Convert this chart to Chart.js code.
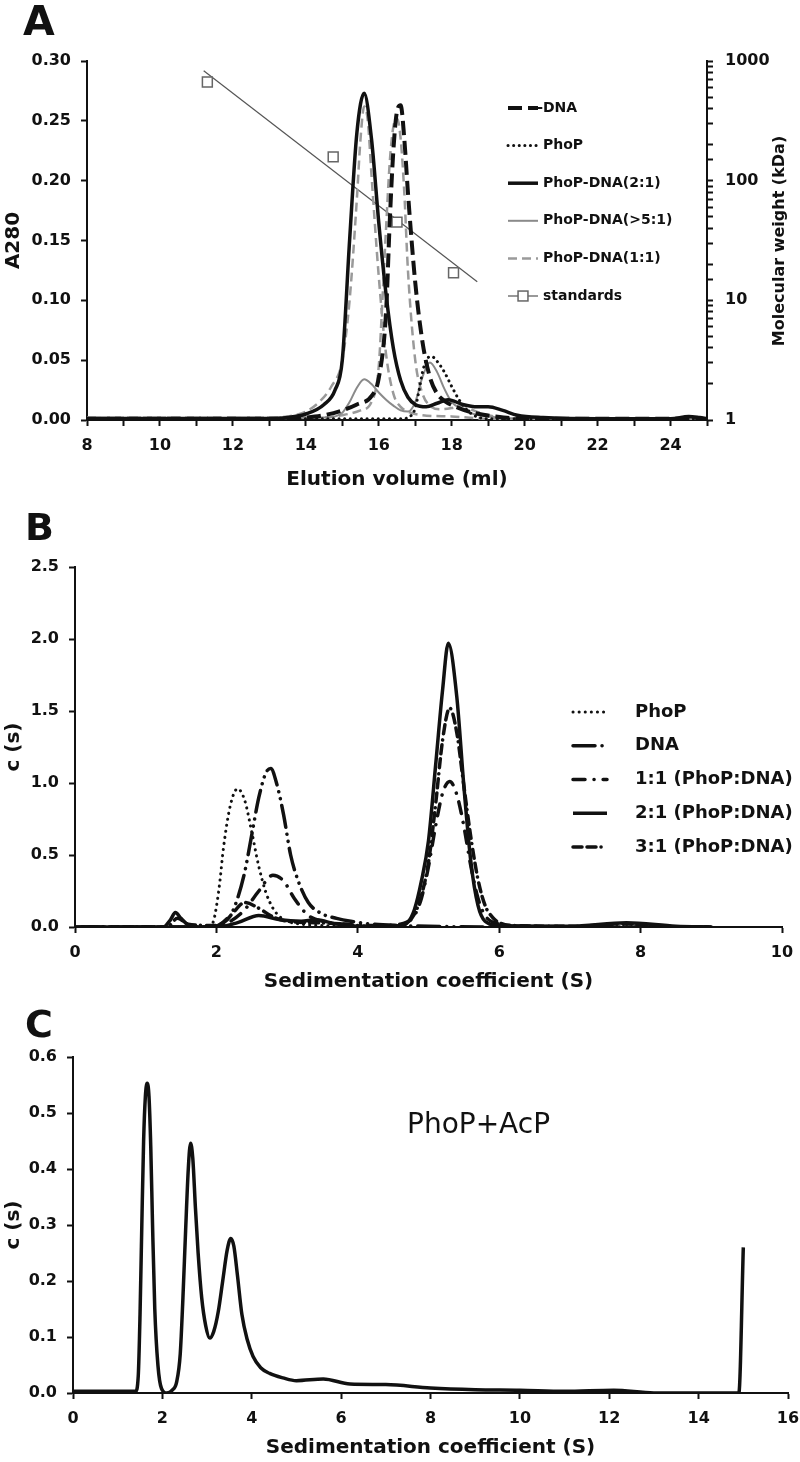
<!DOCTYPE html>
<html>
<head>
<meta charset="utf-8">
<script src="https://cdn.jsdelivr.net/npm/chart.js@4.4.1/dist/chart.umd.min.js"></script>
<style>
  html, body { margin: 0; padding: 0; background: #fff; }
  body { width: 800px; height: 1462px; position: relative; overflow: hidden; }
  canvas { position: absolute; left: 0; }
</style>
</head>
<body>
<canvas id="chartA" width="800" height="494" style="top:0px"></canvas>
<canvas id="chartB" width="800" height="506" style="top:490px"></canvas>
<canvas id="chartC" width="800" height="466" style="top:996px"></canvas>
<script>
// ---- Panel A: gel filtration (A280 vs elution volume) ----
const aNoDnaX = [8, 13.5, 14.0, 14.5, 15.0, 15.4, 15.8, 16.0, 16.2, 16.3, 16.4, 16.5, 16.6, 16.7, 16.8, 17.0, 17.2, 17.4, 17.6, 17.8, 18.2, 18.6, 19.2, 20, 25];
const aNoDnaY = [0.001, 0.001, 0.002, 0.004, 0.008, 0.013, 0.02, 0.035, 0.09, 0.165, 0.225, 0.258, 0.263, 0.235, 0.19, 0.115, 0.065, 0.036, 0.022, 0.016, 0.01, 0.006, 0.003, 0.001, 0.001];

const aPhoPX = [8, 16.6, 16.9, 17.0, 17.1, 17.2, 17.3, 17.45, 17.6, 17.8, 18.0, 18.2, 18.4, 18.6, 19.0, 25];
const aPhoPY = [0.001, 0.001, 0.004, 0.01, 0.024, 0.04, 0.05, 0.053, 0.049, 0.04, 0.028, 0.017, 0.009, 0.004, 0.001, 0.001];

const a21X = [8, 13.0, 13.5, 14.0, 14.5, 14.8, 15.0, 15.2, 15.4, 15.6, 15.8, 16.0, 16.2, 16.4, 16.6, 16.8, 17.0, 17.3, 17.6, 17.9, 18.3, 18.7, 19.0, 19.4, 19.8, 20.5, 22, 24, 24.5, 24.8, 25];
const a21Y = [0.001, 0.001, 0.002, 0.005, 0.013, 0.025, 0.05, 0.15, 0.24, 0.273, 0.235, 0.165, 0.105, 0.06, 0.033, 0.019, 0.013, 0.011, 0.014, 0.017, 0.013, 0.011, 0.011, 0.008, 0.004, 0.002, 0.001, 0.001, 0.003, 0.002, 0.001];

const a51X = [8, 14.5, 14.8, 15.0, 15.2, 15.4, 15.6, 15.8, 16.0, 16.2, 16.4, 16.6, 16.8, 17.0, 17.2, 17.4, 17.6, 17.8, 18.0, 18.3, 18.6, 19.0, 20, 25];
const a51Y = [0.002, 0.002, 0.003, 0.006, 0.015, 0.027, 0.034, 0.03, 0.023, 0.017, 0.012, 0.008, 0.007, 0.015, 0.036, 0.048, 0.04, 0.026, 0.015, 0.009, 0.005, 0.003, 0.001, 0.001];

const a11X = [8, 14.5, 15.0, 15.5, 15.8, 16.0, 16.1, 16.2, 16.3, 16.4, 16.5, 16.6, 16.7, 16.8, 17.0, 17.2, 17.4, 17.7, 18.0, 18.3, 18.6, 19.0, 20, 25];
const a11Y = [0.001, 0.002, 0.004, 0.008, 0.015, 0.045, 0.1, 0.16, 0.215, 0.245, 0.252, 0.235, 0.19, 0.125, 0.05, 0.022, 0.012, 0.009, 0.01, 0.012, 0.008, 0.004, 0.001, 0.001];

// second grey dashed trace, sits under the 2:1 peak (no legend entry)
const a11bX = [8, 13.0, 13.5, 14.0, 14.4, 14.7, 15.0, 15.2, 15.4, 15.5, 15.6, 15.7, 15.8, 16.0, 16.2, 16.4, 16.6, 16.8, 17.2, 18.0, 19.0, 25];
const a11bY = [0.002, 0.002, 0.003, 0.007, 0.016, 0.028, 0.05, 0.1, 0.185, 0.235, 0.262, 0.25, 0.205, 0.12, 0.055, 0.022, 0.011, 0.007, 0.004, 0.003, 0.001, 0.001];

const stdVolume = [11.3, 14.75, 16.5, 18.05];
const stdMW = [668, 158, 45, 17];
const trendVolume = [11.2, 18.7];
const trendMW = [830, 14.3];

// ---- Panel B: c(s) distributions ----
const bPhoPX = [0, 1.85, 1.95, 2.0, 2.05, 2.1, 2.2, 2.3, 2.4, 2.5, 2.6, 2.7, 2.8, 2.9, 3.0, 3.2, 3.5, 4.0];
const bPhoPY = [0, 0, 0.03, 0.14, 0.32, 0.55, 0.85, 0.96, 0.88, 0.66, 0.42, 0.24, 0.13, 0.07, 0.04, 0.02, 0.01, 0];

const bDnaX = [0.1, 1.9, 2.1, 2.2, 2.3, 2.4, 2.5, 2.6, 2.7, 2.77, 2.85, 2.95, 3.05, 3.15, 3.3, 3.5, 3.7, 3.9, 4.2, 4.6, 5.0, 6, 9];
const bDnaY = [0, 0, 0.03, 0.08, 0.2, 0.38, 0.64, 0.9, 1.07, 1.1, 1.0, 0.78, 0.5, 0.33, 0.17, 0.09, 0.06, 0.04, 0.02, 0.01, 0.005, 0, 0];

const b11X = [0.1, 2.0, 2.2, 2.4, 2.6, 2.8, 2.95, 3.1, 3.3, 3.5, 3.8, 4.2, 4.6, 4.8, 4.9, 5.0, 5.1, 5.2, 5.3, 5.4, 5.5, 5.6, 5.7, 5.8, 6.0, 6.3, 9];
const b11Y = [0, 0, 0.04, 0.12, 0.25, 0.36, 0.32, 0.2, 0.08, 0.04, 0.02, 0.01, 0.02, 0.08, 0.2, 0.42, 0.7, 0.93, 1.01, 0.92, 0.7, 0.42, 0.2, 0.08, 0.02, 0.005, 0];

const b21X = [0, 1.25, 1.35, 1.42, 1.5, 1.6, 1.8, 2.0, 2.3, 2.6, 2.9, 3.2, 3.4, 3.7, 4.0, 4.5, 4.7, 4.8, 4.9, 5.0, 5.1, 5.2, 5.28, 5.4, 5.5, 5.6, 5.7, 5.8, 6.0, 7.0, 7.8, 8.5, 9];
const b21Y = [0, 0, 0.05, 0.1, 0.06, 0.015, 0, 0, 0.03, 0.08, 0.05, 0.04, 0.05, 0.02, 0.005, 0, 0.03, 0.12, 0.32, 0.6, 1.12, 1.65, 1.97, 1.6, 0.98, 0.45, 0.15, 0.04, 0.01, 0.005, 0.03, 0.005, 0];

const b31X = [0, 1.3, 1.45, 1.6, 2.0, 2.2, 2.4, 2.6, 2.8, 3.0, 3.4, 3.8, 4.2, 4.6, 4.8, 4.9, 5.0, 5.1, 5.2, 5.3, 5.4, 5.5, 5.6, 5.7, 5.8, 5.9, 6.0, 6.2, 7.0, 7.8, 8.5, 9];
const b31Y = [0, 0, 0.06, 0.02, 0.01, 0.08, 0.17, 0.13, 0.07, 0.04, 0.03, 0.02, 0.005, 0.01, 0.09, 0.22, 0.45, 0.85, 1.3, 1.52, 1.35, 0.98, 0.62, 0.33, 0.15, 0.07, 0.03, 0.01, 0.005, 0.02, 0, 0];

// ---- Panel C: PhoP + AcP ----
const cSedX = [0, 1.4, 1.46, 1.5, 1.54, 1.58, 1.62, 1.66, 1.70, 1.74, 1.78, 1.83, 1.9, 1.98, 2.1, 2.22, 2.32, 2.4, 2.46, 2.52, 2.58, 2.63, 2.68, 2.74, 2.8, 2.88, 2.97, 3.06, 3.15, 3.25, 3.35, 3.45, 3.53, 3.6, 3.68, 3.78, 3.9, 4.03, 4.2, 4.4, 4.7, 5.0, 5.6, 6.2, 7.0, 8.0, 9.0, 10.0, 11.0, 12.1, 13.0, 14.9, 15.0];
const cSedY = [0.003, 0.003, 0.03, 0.14, 0.3, 0.45, 0.53, 0.553, 0.53, 0.44, 0.3, 0.15, 0.05, 0.008, 0.0, 0.005, 0.02, 0.07, 0.17, 0.29, 0.4, 0.446, 0.42, 0.33, 0.25, 0.17, 0.12, 0.098, 0.11, 0.145, 0.2, 0.255, 0.276, 0.262, 0.21, 0.14, 0.095, 0.065, 0.045, 0.035, 0.027, 0.022, 0.025, 0.016, 0.015, 0.009, 0.006, 0.005, 0.003, 0.005, 0.0, 0.0, 0.26];

const FONT = "'DejaVu Sans', sans-serif";
const INK = '#111';
Chart.defaults.font.family = FONT;

const pts = (xs, ys) => xs.map((x, i) => ({ x, y: ys[i] }));

function curve(label, xs, ys, style) {
    return Object.assign({
        label,
        data: pts(xs, ys),
        borderColor: INK,
        borderWidth: 3,
        fill: false,
        pointRadius: 0,
        cubicInterpolationMode: 'monotone',
        borderJoinStyle: 'round'
    }, style);
}

function makeAxis(o) {
    return {
        type: o.type || 'linear',
        position: o.position,
        min: o.min,
        max: o.max,
        ticks: {
            stepSize: o.step,
            autoSkip: false,
            maxRotation: 0,
            color: INK,
            padding: o.pad == null ? 10 : o.pad,
            font: { family: FONT, size: 16, weight: 'bold' },
            callback: o.fmt
        },
        grid: { drawOnChartArea: false, drawTicks: true, tickLength: 6, tickWidth: 2, tickColor: INK, color: INK },
        border: { display: true, color: INK, width: 2 },
        title: o.title
            ? { display: true, text: o.title, color: INK, font: { family: FONT, size: 20, weight: 'bold' }, padding: { top: 2, bottom: 2 } }
            : { display: false },
        afterFit: s => {
            if (s.isHorizontal()) {
                s.height = o.fit;
                // keep the plot edges where the layout padding puts them
                s.paddingLeft = 0;
                s.paddingRight = 0;
            } else {
                s.width = o.fit;
            }
        }
    };
}

// free text: panel letters, notes, rotated right-hand title
function textPlugin(items) {
    return {
        id: 'panelText',
        afterDraw(chart) {
            const ctx = chart.ctx;
            items.forEach(t => {
                ctx.save();
                ctx.font = t.font;
                ctx.fillStyle = INK;
                ctx.textAlign = t.align || 'left';
                ctx.textBaseline = t.baseline || 'alphabetic';
                ctx.translate(t.x, t.y);
                if (t.rotate) ctx.rotate(t.rotate);
                ctx.fillText(t.text, 0, 0);
                ctx.restore();
            });
        }
    };
}

// legend drawn with the real dash patterns of each dataset
function legendPlugin(cfg) {
    return {
        id: 'lineLegend',
        afterDraw(chart) {
            const ctx = chart.ctx;
            cfg.items.forEach((label, i) => {
                const ds = chart.data.datasets.find(d => d.label === label);
                const y = cfg.y + i * cfg.gap;
                ctx.save();
                ctx.strokeStyle = ds.borderColor;
                ctx.lineWidth = ds.borderWidth;
                ctx.lineCap = ds.borderCapStyle || 'butt';
                ctx.setLineDash(ds.borderDash || []);
                ctx.beginPath();
                ctx.moveTo(cfg.x, y);
                ctx.lineTo(cfg.x + cfg.len, y);
                ctx.stroke();
                if (ds.pointStyle === 'rect') {
                    const h = ds.pointRadius * Math.SQRT1_2;
                    const cx = cfg.x + cfg.len / 2;
                    ctx.setLineDash([]);
                    ctx.fillStyle = ds.pointBackgroundColor;
                    ctx.strokeStyle = ds.pointBorderColor;
                    ctx.lineWidth = ds.pointBorderWidth;
                    ctx.fillRect(cx - h, y - h, 2 * h, 2 * h);
                    ctx.strokeRect(cx - h, y - h, 2 * h, 2 * h);
                }
                ctx.font = cfg.font;
                ctx.fillStyle = INK;
                ctx.textBaseline = 'middle';
                const tx = label.startsWith('-') ? cfg.textX - ctx.measureText('-').width : cfg.textX;
                ctx.fillText(label, tx, y);
                ctx.restore();
            });
        }
    };
}

const base = {
    responsive: false,
    animation: false,
    events: [],
    plugins: { legend: { display: false }, tooltip: { enabled: false } }
};

const isPow10 = v => {
    const l = Math.log10(v);
    return Math.abs(l - Math.round(l)) < 1e-9 ? String(Math.round(v)) : '';
};

// Panel A
new Chart(document.getElementById('chartA'), {
    type: 'line',
    data: {
        datasets: [
            curve('PhoP-DNA(2:1)', a21X, a21Y, { borderWidth: 3.5 }),
            curve('-DNA', aNoDnaX, aNoDnaY, { borderWidth: 4, borderDash: [14, 6] }),
            curve('PhoP', aPhoPX, aPhoPY, { borderWidth: 3, borderDash: [0.1, 5.5], borderCapStyle: 'round' }),
            curve('PhoP-DNA(>5:1)', a51X, a51Y, { borderColor: '#8a8a8a', borderWidth: 2 }),
            curve('PhoP-DNA(1:1)', a11X, a11Y, { borderColor: '#9a9a9a', borderWidth: 2.5, borderDash: [9, 5] }),
            curve('PhoP-DNA(1:1) b', a11bX, a11bY, { borderColor: '#9a9a9a', borderWidth: 2.5, borderDash: [9, 5] }),
            {
                label: 'standards',
                data: pts(stdVolume, stdMW),
                yAxisID: 'y2',
                showLine: false,
                borderColor: '#555',
                borderWidth: 1.2,
                pointStyle: 'rect',
                pointRadius: 7,
                pointBorderColor: '#666',
                pointBackgroundColor: '#fff',
                pointBorderWidth: 1.5
            },
            {
                label: 'trend',
                data: pts(trendVolume, trendMW),
                yAxisID: 'y2',
                borderColor: '#555',
                borderWidth: 1.2,
                pointRadius: 0,
                tension: 0
            }
        ]
    },
    options: Object.assign({}, base, {
        layout: { padding: { top: 61, left: 0, right: 0, bottom: 0 } },
        scales: {
            x: makeAxis({ position: 'bottom', min: 8, max: 25, step: 1, fit: 74, title: 'Elution volume (ml)',
                fmt: v => (v % 2 === 0 ? String(v) : '') }),
            y: makeAxis({ position: 'left', min: 0, max: 0.3, step: 0.05, fit: 87, title: 'A280',
                fmt: v => v.toFixed(2) }),
            y2: makeAxis({ type: 'logarithmic', position: 'right', min: 1, max: 1000, fit: 93, pad: 12, fmt: isPow10 })
        }
    }),
    plugins: [
        textPlugin([
            { text: 'A', x: 23, y: 35, font: `bold 41px ${FONT}` },
            { text: 'Molecular weight (kDa)', x: 780, y: 241, font: `bold 16px ${FONT}`,
              align: 'center', baseline: 'middle', rotate: -Math.PI / 2 }
        ]),
        legendPlugin({
            items: ['-DNA', 'PhoP', 'PhoP-DNA(2:1)', 'PhoP-DNA(>5:1)', 'PhoP-DNA(1:1)', 'standards'],
            x: 508, len: 30, textX: 543, y: 108, gap: 37.6, font: `bold 14px ${FONT}`
        })
    ]
});

// Panel B
new Chart(document.getElementById('chartB'), {
    type: 'line',
    data: {
        datasets: [
            curve('2:1 (PhoP:DNA)', b21X, b21Y, { borderWidth: 3.5 }),
            curve('3:1 (PhoP:DNA)', b31X, b31Y, { borderWidth: 3.5, borderDash: [9, 5, 9, 5, 0.1, 6], borderCapStyle: 'round' }),
            curve('1:1 (PhoP:DNA)', b11X, b11Y, { borderWidth: 3.5, borderDash: [12, 9, 0.1, 9], borderCapStyle: 'round' }),
            curve('DNA', bDnaX, bDnaY, { borderWidth: 3.5, borderDash: [22, 7, 0.1, 7, 0.1, 7], borderCapStyle: 'round' }),
            curve('PhoP', bPhoPX, bPhoPY, { borderWidth: 3, borderDash: [0.1, 6], borderCapStyle: 'round' })
        ]
    },
    options: Object.assign({}, base, {
        layout: { padding: { top: 77, left: 0, right: 18, bottom: 0 } },
        scales: {
            x: makeAxis({ position: 'bottom', min: 0, max: 10, step: 2, fit: 69, title: 'Sedimentation coefficient (S)',
                fmt: v => String(v) }),
            y: makeAxis({ position: 'left', min: 0, max: 2.5, step: 0.5, fit: 75, title: 'c (s)',
                fmt: v => v.toFixed(1) })
        }
    }),
    plugins: [
        textPlugin([{ text: 'B', x: 25, y: 50, font: `bold 38px ${FONT}` }]),
        legendPlugin({
            items: ['PhoP', 'DNA', '1:1 (PhoP:DNA)', '2:1 (PhoP:DNA)', '3:1 (PhoP:DNA)'],
            x: 573, len: 34, textX: 635, y: 222, gap: 33.75, font: `bold 18px ${FONT}`
        })
    ]
});

// Panel C
new Chart(document.getElementById('chartC'), {
    type: 'line',
    data: {
        datasets: [curve('PhoP+AcP', cSedX, cSedY, { borderWidth: 3.5 })]
    },
    options: Object.assign({}, base, {
        layout: { padding: { top: 61, left: 0, right: 12, bottom: 0 } },
        scales: {
            x: makeAxis({ position: 'bottom', min: 0, max: 16, step: 2, fit: 69, title: 'Sedimentation coefficient (S)',
                fmt: v => String(v) }),
            y: makeAxis({ position: 'left', min: 0, max: 0.6, step: 0.1, fit: 73, title: 'c (s)',
                fmt: v => v.toFixed(1) })
        }
    }),
    plugins: [
        textPlugin([
            { text: 'C', x: 25, y: 41, font: `bold 38px ${FONT}` },
            { text: 'PhoP+AcP', x: 407, y: 137, font: `28px ${FONT}` }
        ])
    ]
});
</script>
</body>
</html>
